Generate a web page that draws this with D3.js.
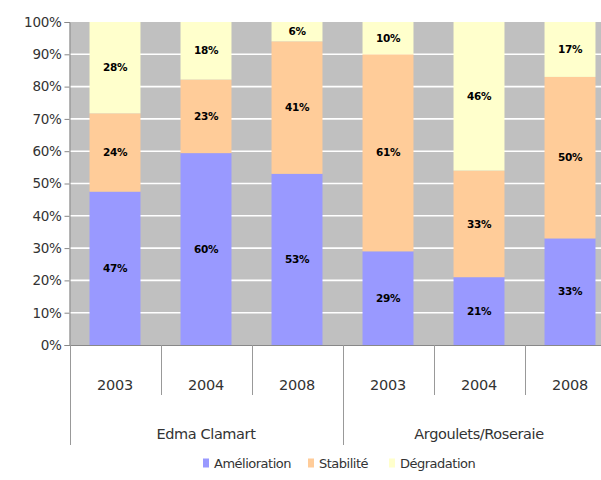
<!DOCTYPE html>
<html>
<head>
<meta charset="utf-8">
<script src="https://cdn.jsdelivr.net/npm/d3@7/dist/d3.min.js"></script>
<style>
  html, body { margin: 0; padding: 0; background: #fff; }
  svg { display: block; font-family: "DejaVu Sans", Verdana, sans-serif; }
</style>
</head>
<body>
<svg id="chart" width="601" height="480"></svg>
<script>
// Quartiers, années et répartition des évolutions (valeurs en %)
const groups = ["Edma Clamart", "Argoulets/Roseraie"];
const years = ["2003", "2004", "2008"];
const series = ["Amélioration", "Stabilité", "Dégradation"];
const amelioration = [47, 60, 53, 29, 21, 33];
const stabilite    = [24, 23, 41, 61, 33, 50];
const degradation  = [28, 18, 6, 10, 46, 17];
const yTicks = [0, 0.1, 0.2, 0.3, 0.4, 0.5, 0.6, 0.7, 0.8, 0.9, 1];
const colors = ["#9999ff", "#ffcc99", "#ffffcc"];

// Une ligne par couple quartier/année
const rows = [];
groups.forEach((g, gi) => years.forEach((yr, yi) => {
  const i = gi * years.length + yi;
  rows.push({ key: g + "|" + yr, group: g, year: yr,
    "Amélioration": amelioration[i], "Stabilité": stabilite[i], "Dégradation": degradation[i] });
}));

const svg = d3.select("#chart");
const plotLeft = 69.5, plotTop = 22, plotBottom = 345, plotRight = 615.5;

const x = d3.scaleBand().domain(rows.map(d => d.key)).range([plotLeft, plotRight])
  .paddingInner(0.44).paddingOuter(0.22);
const slot = d3.scaleBand().domain(rows.map(d => d.key)).range([plotLeft, plotRight]);
const y = d3.scaleLinear().domain([0, 1]).range([plotBottom, plotTop]);

// Empilement normalisé à 100 %
const stacked = d3.stack().keys(series).offset(d3.stackOffsetExpand)(rows);

// Fond de la zone de tracé
svg.append("rect").attr("x", plotLeft).attr("y", plotTop)
  .attr("width", plotRight - plotLeft).attr("height", plotBottom - plotTop).attr("fill", "#c0c0c0");

// Quadrillage horizontal
svg.append("g").selectAll("line").data(yTicks.slice(1, -1)).join("line")
  .attr("x1", plotLeft).attr("x2", plotRight)
  .attr("y1", d => y(d)).attr("y2", d => y(d))
  .attr("stroke", "#ffffff").attr("stroke-width", 1.6);

// Barres
const layers = svg.append("g").selectAll("g").data(stacked).join("g")
  .attr("fill", (d, i) => colors[i]);
layers.selectAll("rect").data(d => d).join("rect")
  .attr("x", d => x(d.data.key))
  .attr("width", x.bandwidth())
  .attr("y", d => y(d[1]))
  .attr("height", d => y(d[0]) - y(d[1]));

// Étiquettes de valeurs
const labels = svg.append("g")
  .attr("font-size", 10.5).attr("font-weight", "bold").attr("fill", "#000")
  .attr("text-anchor", "middle").attr("letter-spacing", "-0.3");
stacked.forEach(layer => {
  labels.selectAll(null).data(layer).join("text")
    .attr("x", d => x(d.data.key) + x.bandwidth() / 2)
    .attr("y", d => (y(d[0]) + y(d[1])) / 2)
    .attr("dy", "0.35em")
    .text(d => d.data[layer.key] + "%");
});

// Axe vertical
const yAxis = svg.append("g").attr("transform", `translate(${plotLeft},0)`)
  .call(d3.axisLeft(y).tickValues(yTicks).tickFormat(d3.format(".0%")).tickSize(5).tickPadding(3));
yAxis.select(".domain").attr("stroke", "#888");
yAxis.selectAll(".tick line").attr("stroke", "#888");
yAxis.selectAll("text").attr("font-size", 13.5).attr("fill", "#333")
  .attr("font-family", "\"DejaVu Sans\", Verdana, sans-serif").attr("letter-spacing", "-0.3");

// Axe horizontal et séparateurs de catégories
svg.append("line").attr("x1", plotLeft).attr("x2", plotRight)
  .attr("y1", plotBottom + 0.5).attr("y2", plotBottom + 0.5).attr("stroke", "#888");
const bounds = rows.map((d, i) => ({ pos: slot(d.key), groupEdge: i % years.length === 0 }));
bounds.push({ pos: slot(rows[rows.length - 1].key) + slot.bandwidth(), groupEdge: true });
svg.append("g").selectAll("line").data(bounds).join("line")
  .attr("x1", d => Math.round(d.pos) + 0.5).attr("x2", d => Math.round(d.pos) + 0.5)
  .attr("y1", plotBottom).attr("y2", d => d.groupEdge ? 445 : 395)
  .attr("stroke", "#999");

// Années
svg.append("g").attr("font-size", 14.5).attr("fill", "#333").attr("text-anchor", "middle")
  .attr("letter-spacing", "-0.2")
  .selectAll("text").data(rows).join("text")
  .attr("x", d => slot(d.key) + slot.bandwidth() / 2)
  .attr("y", 389.5)
  .text(d => d.year);

// Quartiers
svg.append("g").attr("font-size", 14.5).attr("fill", "#333").attr("text-anchor", "middle")
  .attr("letter-spacing", "-0.4")
  .selectAll("text").data(groups).join("text")
  .attr("x", g => {
    const keys = rows.filter(r => r.group === g).map(r => r.key);
    return (slot(keys[0]) + slot(keys[keys.length - 1]) + slot.bandwidth()) / 2;
  })
  .attr("y", 439)
  .text(g => g);

// Légende
const legendPos = [203, 308, 389];
const legend = svg.append("g").selectAll("g").data(series).join("g")
  .attr("transform", (d, i) => `translate(${legendPos[i]},458)`);
legend.append("rect").attr("width", 6).attr("height", 9).attr("y", 0.5)
  .attr("fill", (d, i) => colors[i]);
legend.append("text").attr("x", 11).attr("y", 9.5)
  .attr("font-size", 13).attr("fill", "#333").attr("letter-spacing", "-0.5")
  .text(d => d);
</script>
</body>
</html>
